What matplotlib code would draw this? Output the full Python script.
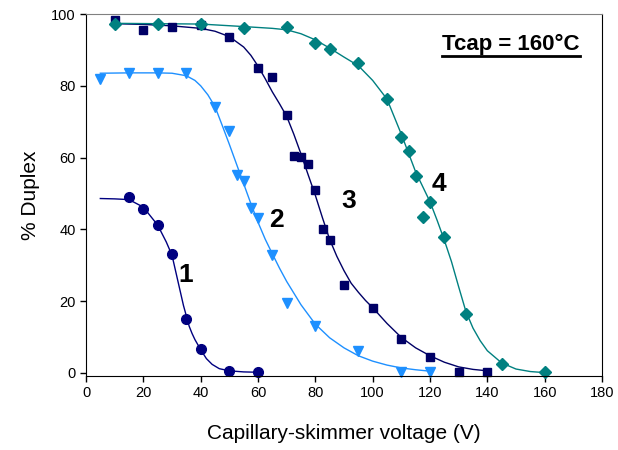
import matplotlib
matplotlib.use("Agg")
import matplotlib.pyplot as plt

plt.rcParams['font.family'] = ['Liberation Sans', 'DejaVu Sans']

# measured points, one set per run
x1 = [15, 20, 25, 30, 35, 40, 50, 60]
y1 = [49, 45.8, 41.2, 33.1, 15, 6.6, 0.6, 0.2]

x2 = [5, 15, 25, 35, 45, 50, 52.5, 55, 57.5, 60, 65, 70, 80, 95, 110, 120]
y2 = [82, 83.7, 83.7, 83.7, 74, 67.3, 55.1, 53.6, 46, 43.1, 33, 19.6, 13.2, 6, 0.2, 0.2]

x3 = [10, 20, 30, 40, 50, 60, 65, 70, 72.5, 75, 77.5, 80, 82.5, 85, 90, 100, 110, 120, 130, 140]
y3 = [98.3, 95.5, 96.3, 96.9, 93.6, 85, 82.4, 71.8, 60.4, 60.1, 58.1, 51, 40.1, 37, 24.5, 18.2, 9.6, 4.5, 0.2, 0.2]

x4 = [10, 25, 40, 55, 70, 80, 85, 95, 105, 110, 112.5, 115, 117.5, 120, 125, 132.5, 145, 160]
y4 = [97.2, 97.2, 97.2, 96.2, 96.3, 91.8, 90.2, 86.4, 76.4, 65.6, 61.9, 55, 43.5, 47.7, 37.9, 16.4, 2.5, 0.2]

# fitted curves
c1x = [5, 10, 15, 20, 25, 28, 30, 32, 34, 36, 37, 38, 39, 40, 42, 44, 46.5, 50, 55, 60]
c1y = [48.6, 48.5, 48.3, 46.2, 41.2, 36.5, 32.8, 25.8, 18.8, 13, 11, 9.3, 7.9, 6.5, 4, 2.4, 1.2, 0.6, 0.3, 0.2]

c2x = [5, 15, 25, 30, 35, 38, 40, 42.5, 45, 47.5, 50, 52.5, 55, 57.5, 60, 62.5, 65, 67.5, 70,
       75, 80, 85, 90, 95, 100, 105, 110, 115, 120]
c2y = [83.5, 83.6, 83.6, 83.5, 82.8, 81.5, 80, 77.5, 74.2, 69, 63.7, 58.2, 52.7, 47.2, 42, 37.3, 33.2, 29.2, 25.5,
       19, 13.6, 9.8, 7, 4.8, 3.3, 2.2, 1.4, 0.9, 0.5]

c3x = [10, 20, 30, 40, 45, 50, 55, 57.5, 60, 62.5, 65, 67.5, 70, 72.5, 75, 77.5, 80, 82.5, 85, 87.5,
       90, 92.5, 95, 97.5, 100, 105, 110, 115, 120, 125, 130, 135, 140]
c3y = [97.3, 97.1, 96.7, 96, 95.2, 93.7, 90.8, 88.5, 85.5, 82, 78.3, 75, 71.5, 66.5, 61, 55.2, 49.5, 43.2, 37.2, 32.5,
       28.5, 25, 22.5, 20.2, 18.2, 13.8, 9.9, 7, 4.8, 3, 1.7, 1, 0.6]

c4x = [10, 25, 40, 55, 65, 70, 75, 80, 85, 90, 95, 100, 105, 110, 115, 120, 122.5, 125, 127.5, 130,
       132.5, 135, 137.5, 140, 145, 150, 155, 160]
c4y = [97.4, 97.3, 97.2, 96.5, 96, 95.6, 94.5, 92.8, 90.5, 88, 85.6, 81.5, 76.3, 66.5, 56, 47.7, 42.5, 37, 31, 24,
       17.2, 12.5, 9, 6.2, 2.8, 1.1, 0.4, 0.1]

labels = ['1', '2', '3', '4']
label_x = [34.9, 66.5, 91.7, 123.2]
label_y = [27.3, 42.6, 48, 52.6]

fig = plt.figure(figsize=(6.18, 4.5), dpi=100)
ax = fig.add_axes([86 / 618, 1 - 376 / 450, 516 / 618, 362 / 450])

ax.plot(c1x, c1y, color='#000080', lw=1)
ax.plot(c2x, c2y, color='#1E90FF', lw=1)
ax.plot(c3x, c3y, color='#000066', lw=1)
ax.plot(c4x, c4y, color='#008080', lw=1)

ax.plot(x1, y1, 'o', color='#000080', ms=7, clip_on=False)
ax.plot(x2, y2, 'v', color='#1E90FF', ms=7.5, clip_on=False)
ax.plot(x3, y3, 's', color='#000066', ms=6, clip_on=False)
ax.plot(x4, y4, 'D', color='#008080', ms=6, clip_on=False)

for t, lx, ly in zip(labels, label_x, label_y):
    ax.text(lx, ly, t, fontsize=19, fontweight='bold', ha='center', va='center')

tc = ax.text(148.2, 91.6, 'Tcap = 160°C', fontsize=16, fontweight='bold', ha='center', va='center')

ax.set_xlim(0, 180)
ax.set_ylim(-0.84, 100)
ax.set_xticks(range(0, 181, 20))
ax.set_yticks(range(0, 101, 20))
ax.tick_params(direction='out', length=4, width=1, labelsize=10.5, color='black')
for side in ['left', 'bottom', 'right']:
    ax.spines[side].set_color('black')
ax.spines['top'].set_color('#808080')

ax.set_xlabel('Capillary-skimmer voltage (V)', fontsize=15, labelpad=17)
ax.set_ylabel('% Duplex', fontsize=15, labelpad=8)

# underline the Tcap note
fig.canvas.draw()
bb = tc.get_window_extent().transformed(ax.transAxes.inverted())
uy = bb.y0 - 0.004
ax.plot([bb.x0, bb.x1], [uy, uy], color='black', lw=2, transform=ax.transAxes, clip_on=False)

fig.savefig('out.png', dpi=100)
